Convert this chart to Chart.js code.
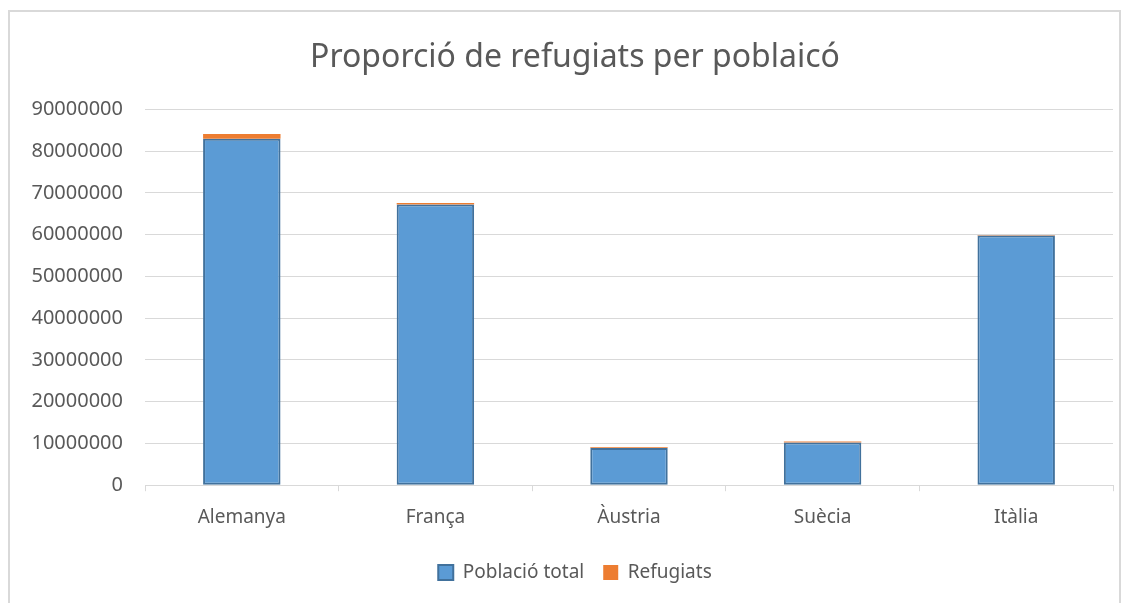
<!DOCTYPE html>
<html>
<head>
<meta charset="utf-8">
<script src="https://cdn.jsdelivr.net/npm/chart.js@4"></script>
<style>
  body { margin: 0; background: #fff; overflow: hidden; }
  #frame { position: absolute; left: 8px; top: 10px; width: 1113px; height: 600px; border: 2px solid #D9D9D9; box-sizing: border-box; }
  #wrap { position: absolute; left: 0; top: 0; width: 1150px; height: 603px; }
</style>
</head>
<body>
<div id="frame"></div>
<div id="wrap"><canvas id="myChart" width="1150" height="603"></canvas></div>
<script>
var labels = ['Alemanya', 'França', 'Àustria', 'Suècia', 'Itàlia'];
var poblacio = [83000000, 67200000, 8900000, 10200000, 59800000];
var refugiats = [1100000, 400000, 200000, 250000, 150000];
var yTicks = [0, 10000000, 20000000, 30000000, 40000000, 50000000, 60000000, 70000000, 80000000, 90000000];

var grey = '#595959';
Chart.defaults.font.family = '"Noto Sans", "Open Sans", sans-serif';
Chart.defaults.color = grey;

var ctx = document.getElementById('myChart').getContext('2d');
var chart = new Chart(ctx, {
    type: 'bar',
    data: {
        labels: labels,
        datasets: [{
            label: 'Població total',
            data: poblacio,
            backgroundColor: '#5B9BD5',
            borderColor: '#41719C',
            borderWidth: 2,
            borderSkipped: false
        }, {
            label: 'Refugiats',
            data: refugiats,
            backgroundColor: '#ED7D31',
            borderWidth: 0
        }]
    },
    options: {
        responsive: false,
        animation: false,
        layout: { padding: { left: 10, right: 10, top: 0, bottom: 11 } },
        datasets: { bar: { barPercentage: 0.4, categoryPercentage: 1 } },
        plugins: {
            title: {
                display: true,
                text: 'Proporció de refugiats per poblaicó',
                color: grey,
                font: { size: 32, weight: 'normal' },
                padding: { top: 39, bottom: 32 }
            },
            legend: {
                position: 'bottom',
                labels: {
                    boxWidth: 15,
                    boxHeight: 15,
                    padding: 19,
                    font: { size: 19 },
                    color: grey
                }
            },
            tooltip: { enabled: false }
        },
        scales: {
            x: {
                stacked: true,
                border: { color: '#D9D9D9', width: 1 },
                grid: { display: true, drawOnChartArea: false, drawTicks: true, tickLength: 6, color: '#D9D9D9', offset: true },
                ticks: { font: { size: 19 }, color: grey, padding: 15 }
            },
            y: {
                stacked: true,
                min: 0,
                max: 90000000,
                afterFit: function(scale) { scale.width = 135; },
                afterBuildTicks: function(scale) {
                    scale.ticks = yTicks.map(function(v) { return { value: v }; });
                },
                border: { display: false },
                grid: { color: '#D9D9D9', drawTicks: false },
                ticks: {
                    font: { size: 20 },
                    color: grey,
                    padding: 22,
                    callback: function(v) { return String(v); }
                }
            },
            // empty right axis, only there to keep the title centred like the original
            spacer: {
                type: 'linear',
                position: 'right',
                afterFit: function(scale) { scale.width = 27; },
                border: { display: false },
                grid: { display: false },
                ticks: { display: false }
            }
        }
    }
});
</script>
</body>
</html>
